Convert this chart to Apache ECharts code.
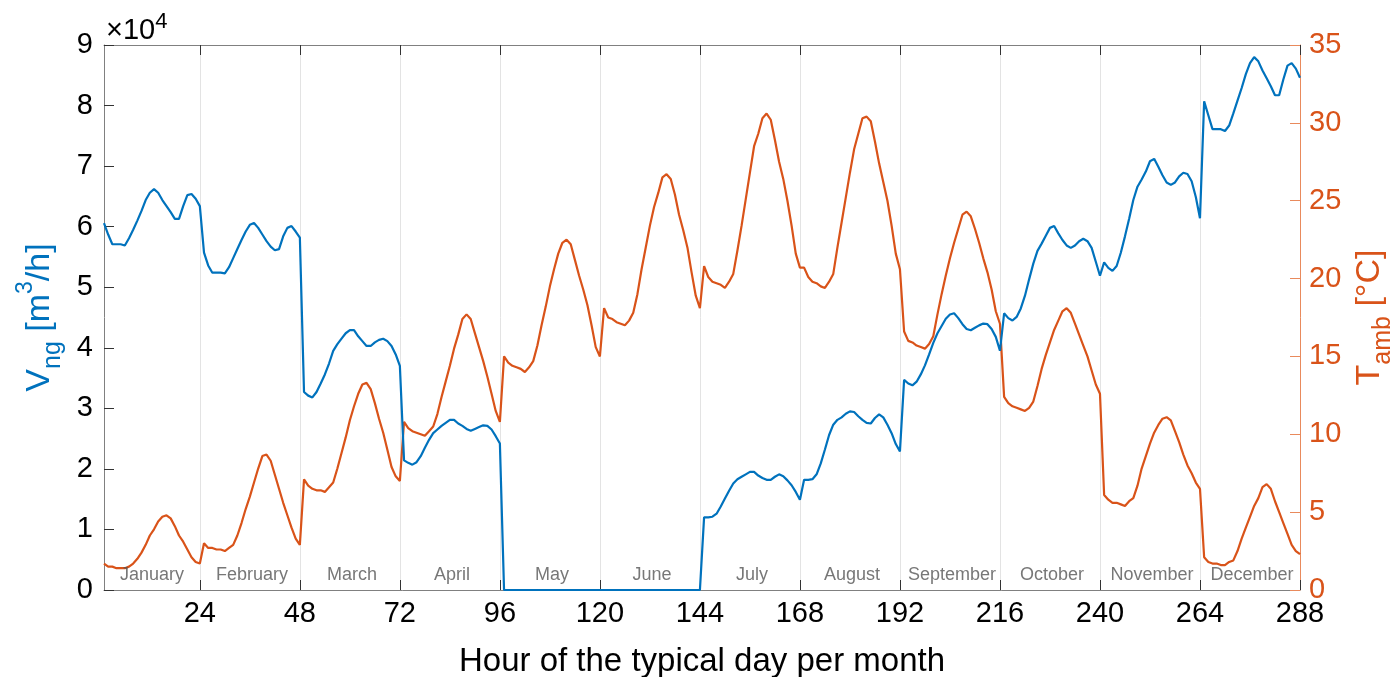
<!DOCTYPE html>
<html>
<head>
<meta charset="utf-8">
<script src="https://cdn.jsdelivr.net/npm/echarts@6/dist/echarts.min.js"></script>
<style>
  html, body { margin: 0; padding: 0; background: #fff; }
  #chart { width: 1392px; height: 677px; }
</style>
</head>
<body>
<div id="chart"></div>
<script>
// Typical-day profiles, one block of 24 hourly values per month
const months = ['January', 'February', 'March', 'April', 'May', 'June',
  'July', 'August', 'September', 'October', 'November', 'December'];

const hourTicks = [24, 48, 72, 96, 120, 144, 168, 192, 216, 240, 264, 288];
const flowTicks = [0, 1, 2, 3, 4, 5, 6, 7, 8, 9];          // ×10^4 m³/h
const tempTicks = [0, 5, 10, 15, 20, 25, 30, 35];           // °C

// Natural gas volume flow V_ng [m³/h]
const flowJan = [60600, 58700, 57100, 57100, 57100, 56900, 58100, 59500, 61000, 62600, 64400, 65600, 66200, 65600, 64400, 63400, 62400, 61300, 61300, 63400, 65200, 65400, 64600, 63400];
const flowFeb = [55700, 53600, 52400, 52400, 52400, 52300, 53300, 54800, 56300, 57800, 59200, 60300, 60600, 59800, 58700, 57600, 56700, 56100, 56300, 58400, 59800, 60100, 59200, 58200];
const flowMar = [32700, 32100, 31800, 32700, 34100, 35600, 37400, 39500, 40600, 41500, 42400, 42900, 42900, 41900, 41100, 40300, 40300, 40900, 41300, 41500, 41100, 40300, 38900, 37000];
const flowApr = [21400, 21000, 20700, 21100, 22100, 23500, 24800, 25900, 26500, 27100, 27600, 28100, 28100, 27500, 27100, 26600, 26300, 26600, 26900, 27200, 27100, 26500, 25400, 24200];
const flowMay = [0, 0, 0, 0, 0, 0, 0, 0, 0, 0, 0, 0, 0, 0, 0, 0, 0, 0, 0, 0, 0, 0, 0, 0];
const flowJun = [0, 0, 0, 0, 0, 0, 0, 0, 0, 0, 0, 0, 0, 0, 0, 0, 0, 0, 0, 0, 0, 0, 0, 0];
const flowJul = [12000, 12000, 12100, 12600, 13800, 15100, 16400, 17600, 18300, 18700, 19100, 19500, 19500, 18900, 18500, 18200, 18200, 18700, 19100, 18800, 18100, 17300, 16200, 14900];
const flowAug = [18200, 18200, 18300, 19100, 20900, 23200, 25600, 27300, 28100, 28500, 29100, 29500, 29400, 28700, 28100, 27600, 27500, 28400, 29000, 28500, 27300, 25900, 24100, 22900];
const flowSep = [34700, 34100, 33800, 34400, 35600, 37100, 38900, 40800, 42400, 43600, 44800, 45500, 45700, 44900, 43900, 43100, 42900, 43300, 43700, 44000, 43900, 43100, 41800, 39500];
const flowOct = [45700, 44900, 44500, 45100, 46500, 48600, 51300, 53900, 56000, 57200, 58500, 59800, 60100, 58900, 57800, 56900, 56500, 56900, 57600, 58000, 57600, 56500, 54200, 51900];
const flowNov = [54100, 53200, 52700, 53500, 55700, 58400, 61300, 64400, 66600, 67800, 69100, 70800, 71200, 69900, 68500, 67300, 66900, 67300, 68300, 68900, 68700, 67500, 64900, 61400];
const flowDec = [80700, 78400, 76100, 76100, 76100, 75800, 76700, 78700, 80800, 82900, 85200, 87000, 88000, 87300, 85800, 84500, 83200, 81700, 81700, 84300, 86600, 87000, 86100, 84600];

// Ambient temperature T_amb [°C]
const tempJan = [1.7, 1.5, 1.5, 1.4, 1.4, 1.4, 1.5, 1.7, 2.0, 2.4, 2.9, 3.5, 3.9, 4.4, 4.7, 4.8, 4.6, 4.1, 3.5, 3.1, 2.6, 2.1, 1.8, 1.7];
const tempFeb = [3.0, 2.7, 2.7, 2.6, 2.6, 2.5, 2.7, 2.9, 3.5, 4.3, 5.2, 6.0, 6.9, 7.8, 8.6, 8.7, 8.3, 7.4, 6.5, 5.6, 4.8, 4.0, 3.3, 2.9];
const tempMar = [7.1, 6.7, 6.5, 6.4, 6.4, 6.3, 6.6, 6.9, 7.8, 8.8, 9.8, 10.9, 11.8, 12.6, 13.2, 13.3, 12.9, 12.0, 11.0, 10.1, 9.0, 7.9, 7.3, 7.0];
const tempApr = [10.8, 10.4, 10.2, 10.1, 10.0, 9.9, 10.2, 10.5, 11.3, 12.4, 13.4, 14.4, 15.5, 16.4, 17.4, 17.7, 17.4, 16.5, 15.6, 14.7, 13.7, 12.6, 11.5, 10.8];
const tempMay = [15.0, 14.6, 14.4, 14.3, 14.2, 14.0, 14.3, 14.7, 15.7, 17.0, 18.2, 19.5, 20.6, 21.6, 22.3, 22.5, 22.2, 21.2, 20.2, 19.3, 18.3, 17.0, 15.6, 15.0];
const tempJun = [18.1, 17.5, 17.4, 17.2, 17.1, 17.0, 17.3, 17.8, 19.0, 20.6, 22.0, 23.4, 24.6, 25.5, 26.5, 26.7, 26.4, 25.4, 24.1, 23.1, 22.0, 20.4, 18.9, 18.1];
const tempJul = [20.8, 20.1, 19.8, 19.7, 19.6, 19.4, 19.8, 20.3, 21.8, 23.4, 25.1, 26.8, 28.5, 29.3, 30.3, 30.6, 30.2, 28.9, 27.5, 26.4, 25.0, 23.4, 21.6, 20.7];
const tempAug = [20.7, 20.1, 19.8, 19.7, 19.5, 19.4, 19.8, 20.3, 22.0, 23.6, 25.2, 26.8, 28.3, 29.3, 30.3, 30.4, 30.1, 28.8, 27.4, 26.2, 25.0, 23.4, 21.6, 20.6];
const tempSep = [16.6, 16.0, 15.9, 15.7, 15.6, 15.5, 15.8, 16.3, 17.7, 19.0, 20.2, 21.3, 22.3, 23.2, 24.1, 24.3, 24.0, 23.2, 22.3, 21.3, 20.4, 19.3, 17.9, 17.1];
const tempOct = [12.4, 12.0, 11.8, 11.7, 11.6, 11.5, 11.7, 12.1, 13.1, 14.2, 15.1, 15.9, 16.7, 17.3, 17.9, 18.1, 17.8, 17.1, 16.4, 15.7, 15.0, 14.1, 13.2, 12.6];
const tempNov = [6.1, 5.8, 5.6, 5.6, 5.5, 5.4, 5.7, 5.9, 6.7, 7.8, 8.6, 9.4, 10.1, 10.6, 11.0, 11.1, 10.9, 10.2, 9.5, 8.7, 8.0, 7.5, 6.9, 6.5];
const tempDec = [2.1, 1.8, 1.7, 1.7, 1.6, 1.6, 1.8, 1.9, 2.5, 3.3, 4.0, 4.7, 5.4, 5.9, 6.6, 6.8, 6.5, 5.7, 5.0, 4.3, 3.6, 2.9, 2.5, 2.3];

const flowByMonth = [flowJan, flowFeb, flowMar, flowApr, flowMay, flowJun, flowJul, flowAug, flowSep, flowOct, flowNov, flowDec];
const tempByMonth = [tempJan, tempFeb, tempMar, tempApr, tempMay, tempJun, tempJul, tempAug, tempSep, tempOct, tempNov, tempDec];

// Hours run 1..288 across the twelve typical days
function toPairs(blocks) {
  const out = [];
  blocks.forEach((block, m) => block.forEach((v, h) => out.push([m * 24 + h + 1, v])));
  return out;
}

const BLUE = '#0072BD';
const ORANGE = '#D95319';
const ORANGE_AXIS = '#e98a5c';
const AXIS = '#808080';
const FONT = 'Liberation Sans, Arial, sans-serif';
const TICK_FONT = 29;

const chart = echarts.init(document.getElementById('chart'), null, { renderer: 'canvas' });

const xCommon = {
  type: 'value', min: 1, max: 288,
  axisLine: { show: true, onZero: false, lineStyle: { color: AXIS, width: 1 } },
  axisTick: { show: true, inside: true, length: 10, customValues: hourTicks, lineStyle: { color: '#333', width: 1 } }
};

chart.setOption({
  animation: false,
  backgroundColor: '#fff',
  textStyle: { fontFamily: FONT },
  grid: { left: 104, right: 92, top: 45, bottom: 87, containLabel: false, outerBoundsMode: 'none' },
  xAxis: [
    Object.assign({}, xCommon, {
      position: 'bottom',
      axisLabel: { show: true, customValues: hourTicks, color: '#000', fontSize: TICK_FONT, margin: 9, fontFamily: FONT },
      splitLine: { show: true, lineStyle: { color: '#e3e3e3', width: 1 } },
      name: 'Hour of the typical day per month',
      nameLocation: 'middle', nameGap: 55,
      nameTextStyle: { color: '#000', fontSize: 33, fontFamily: FONT }
    }),
    Object.assign({}, xCommon, {
      position: 'top',
      axisLabel: { show: false },
      splitLine: { show: false }
    })
  ],
  yAxis: [
    {
      type: 'value', min: 0, max: 90000, interval: 10000, position: 'left',
      axisLine: { show: true, lineStyle: { color: AXIS, width: 1 } },
      axisTick: { show: true, inside: true, length: 10, lineStyle: { color: '#333' } },
      axisLabel: { color: '#000', fontSize: TICK_FONT, margin: 11, fontFamily: FONT,
        formatter: v => String(flowTicks[Math.round(v / 10000)]) },
      splitLine: { show: false },
      name: '{m|V}{sub|ng}{m| [m}{sup|3}{m|/h]}',
      nameLocation: 'middle', nameRotate: 90, nameGap: 32,
      nameTextStyle: {
        color: BLUE,
        rich: {
          m: { fontSize: 34, color: BLUE, lineHeight: 52, fontFamily: FONT },
          sub: { fontSize: 25, color: BLUE, lineHeight: 22, verticalAlign: 'bottom', fontFamily: FONT },
          sup: { fontSize: 23, color: BLUE, lineHeight: 22, verticalAlign: 'top', fontFamily: FONT }
        }
      }
    },
    {
      type: 'value', min: 0, max: 35, interval: 5, position: 'right',
      axisLine: { show: true, lineStyle: { color: ORANGE_AXIS, width: 1 } },
      axisTick: { show: true, inside: true, length: 10, lineStyle: { color: ORANGE_AXIS } },
      axisLabel: { color: ORANGE, fontSize: TICK_FONT, margin: 9, fontFamily: FONT,
        formatter: v => String(tempTicks[Math.round(v / 5)]) },
      splitLine: { show: false },
      name: '{m|T}{sub|amb}{m| [°C]}',
      nameLocation: 'middle', nameRotate: 90, nameGap: 44,
      nameTextStyle: {
        color: ORANGE,
        rich: {
          m: { fontSize: 34, color: ORANGE, lineHeight: 52, fontFamily: FONT },
          sub: { fontSize: 25, color: ORANGE, lineHeight: 22, verticalAlign: 'bottom', fontFamily: FONT }
        }
      }
    }
  ],
  graphic: [
    {
      type: 'text', left: 106, top: 11,
      style: {
        text: '{m|×10}{sup|4}',
        rich: {
          m: { fontSize: 29, fill: '#000', lineHeight: 40, fontFamily: FONT },
          sup: { fontSize: 22, fill: '#000', lineHeight: 26, verticalAlign: 'top', fontFamily: FONT }
        }
      }
    }
  ],
  series: [
    {
      name: 'V_ng', type: 'line', xAxisIndex: 0, yAxisIndex: 0,
      data: toPairs(flowByMonth), showSymbol: false, symbol: 'none',
      lineStyle: { color: BLUE, width: 2.2 }, itemStyle: { color: BLUE }, z: 3
    },
    {
      name: 'T_amb', type: 'line', xAxisIndex: 0, yAxisIndex: 1,
      data: toPairs(tempByMonth), showSymbol: false, symbol: 'none',
      lineStyle: { color: ORANGE, width: 2.2 }, itemStyle: { color: ORANGE }, z: 2
    },
    {
      name: 'months', type: 'scatter', xAxisIndex: 0, yAxisIndex: 0,
      symbolSize: 0, silent: true, z: 4,
      data: months.map((m, i) => ({ value: [i * 24 + 12.5, 2500], name: m })),
      label: { show: true, position: 'inside', formatter: p => p.name,
        color: '#555', fontSize: 18, fontFamily: FONT }
    }
  ]
});
</script>
</body>
</html>
